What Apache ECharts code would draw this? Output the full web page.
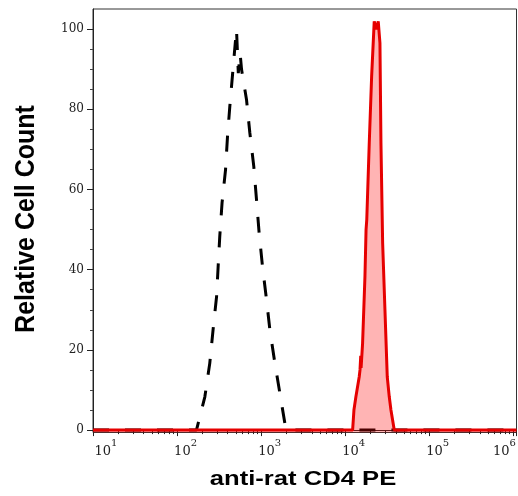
<!DOCTYPE html>
<html>
<head>
<meta charset="utf-8">
<script src="https://cdn.jsdelivr.net/npm/echarts@6/dist/echarts.min.js"></script>
<style>
html,body{margin:0;padding:0;background:#fff;}
#chart{width:518px;height:496px;}
</style>
</head>
<body>
<div id="chart"></div>
<script>
// Isotype control (black dashed) : fluorescence intensity and relative count
const blackX = [10, 170, 214, 245, 268, 295, 308, 322, 343, 377, 398, 424, 464, 509, 535, 562, 585, 670, 733, 818, 881, 946, 1039, 1159, 1270, 1456, 1670, 1916, 2023, 1090000];
const blackY = [0, 0, 8.3, 16.7, 25, 33.3, 40.8, 48.3, 56.7, 64.9, 73.2, 80.7, 90.3, 100, 89, 94, 89.9, 82.4, 74.2, 65.7, 57.4, 49.2, 40.7, 32.5, 25, 16.7, 9.2, 1.7, 0, 0];
// anti-rat CD4 PE stained (red filled)
const redX = [10, 12250, 12700, 13400, 14680, 15000, 15300, 15450, 16100, 17170, 17700, 18050, 19320, 20620, 22140, 23390, 24710, 25890, 26610, 27870, 29690, 31630, 33420, 34990, 38310, 1090000];
const redY = [0, 0, 5, 8.3, 13.3, 15, 18.5, 15.5, 21.7, 38.3, 50, 52.5, 71.6, 88.2, 101.9, 99.9, 101.9, 96.5, 71.6, 46.7, 30, 13.3, 8.3, 5, 0, 0];
// tick values
const yMajorTicks = [0, 20, 40, 60, 80, 100];
const yMinorTicks = [5, 10, 15, 25, 30, 35, 45, 50, 55, 65, 70, 75, 85, 90, 95];
const decades = [1, 2, 3, 4, 5];
const minorMultipliers = [2, 3, 4, 5, 6, 7, 8, 9];
const xTitle = 'anti-rat CD4 PE';
const yTitle = 'Relative Cell Count';

const xMinorLog = [];
decades.forEach(d => minorMultipliers.forEach(m => xMinorLog.push(d + Math.log10(m))));

const X_MIN = 10, X_MAX = 1090000;
const Y_MIN = -0.6, Y_MAX = 105;

const chart = echarts.init(document.getElementById('chart'), null, {renderer: 'canvas'});
const serif = 'DejaVu Serif';
const option = {
  animation: false,
  backgroundColor: '#fff',
  grid: {left: 93, top: 9, right: 1.5, bottom: 63.5, containLabel: false, outerBoundsMode: 'none',
    show: true, borderColor: '#333', borderWidth: 1, backgroundColor: 'transparent'},
  xAxis: [{
    type: 'log', logBase: 10, min: X_MIN, max: X_MAX,
    axisLine: {show: true, lineStyle: {color: '#222', width: 1}},
    axisTick: {show: true, length: 6, lineStyle: {color: '#222', width: 1}},
    splitLine: {show: false},
    axisLabel: {
      margin: 6,
      hideOverlap: false,
      formatter: function (v) {
        const l = Math.log10(v);
        const e = Math.round(l);
        if (Math.abs(l - e) > 1e-6) return '';
        if (e === 1) return '{p1| }{b|10}{s|' + e + '}';
        if (e === 6) return '{b|10}{s|' + e + '}{q| }';
        return '{p| }{b|10}{s|' + e + '}';
      },
      rich: {
        b: {fontFamily: serif, fontSize: 13, color: '#222', lineHeight: 20, verticalAlign: 'bottom'},
        s: {fontFamily: serif, fontSize: 10, color: '#222', lineHeight: 20, verticalAlign: 'top'},
        p: {width: 17, fontSize: 10, lineHeight: 20},
        p1: {width: 26, fontSize: 10, lineHeight: 20},
        q: {width: 18, fontSize: 10, lineHeight: 20}
      }
    }
  }, {
    type: 'value', min: 1, max: Math.log10(X_MAX), position: 'bottom',
    axisLine: {show: false},
    axisLabel: {show: false},
    splitLine: {show: false},
    axisTick: {show: true, length: 4, customValues: xMinorLog, lineStyle: {color: '#222', width: 1}}
  }],
  yAxis: [{
    type: 'value', min: Y_MIN, max: Y_MAX,
    axisLine: {show: true, lineStyle: {color: '#222', width: 1}},
    axisTick: {show: true, length: 6, customValues: yMajorTicks, lineStyle: {color: '#222', width: 1}},
    splitLine: {show: false},
    axisLabel: {margin: 9, customValues: yMajorTicks, fontFamily: serif, fontSize: 12, color: '#222'}
  }, {
    type: 'value', min: Y_MIN, max: Y_MAX, position: 'left',
    axisLine: {show: false},
    axisLabel: {show: false},
    splitLine: {show: false},
    axisTick: {show: true, length: 3, customValues: yMinorTicks, lineStyle: {color: '#444', width: 1}}
  }],
  series: [{
    type: 'line', name: 'isotype', xAxisIndex: 0, yAxisIndex: 0,
    data: blackX.map((x, i) => [x, blackY[i]]),
    symbol: 'none', smooth: false, z: 2,
    lineStyle: {color: '#000', width: 3, type: [16, 16]}
  }, {
    type: 'line', name: 'CD4', xAxisIndex: 0, yAxisIndex: 0,
    data: redX.map((x, i) => [x, redY[i]]),
    symbol: 'none', smooth: false, z: 3,
    lineStyle: {color: '#e60000', width: 3},
    areaStyle: {color: 'rgba(255,0,0,0.42)', origin: 'start'}
  }],
  graphic: [{
    type: 'text', x: 303, y: 479, scaleX: 1.22,
    style: {text: xTitle, fontFamily: 'Liberation Sans', fontWeight: 'bold', fontSize: 21, fill: '#000', align: 'center', verticalAlign: 'middle'}
  }, {
    type: 'text', x: 26, y: 219, rotation: Math.PI / 2, scaleY: 1.12,
    style: {text: yTitle, fontFamily: 'Liberation Sans', fontWeight: 'bold', fontSize: 25, fill: '#000', align: 'center', verticalAlign: 'middle'}
  }]
};
chart.setOption(option);
</script>
</body>
</html>
